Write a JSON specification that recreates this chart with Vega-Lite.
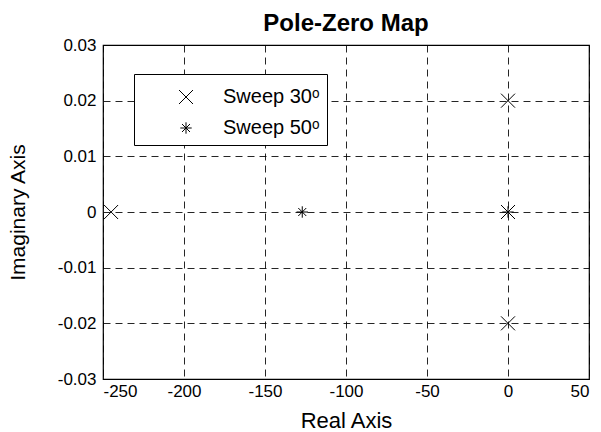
{
  "$schema": "https://vega.github.io/schema/vega-lite/v6.json",
  "width": 486,
  "height": 334,
  "autosize": "none",
  "padding": {"left": 103, "top": 45, "right": 12, "bottom": 53},
  "background": "white",
  "config": {
    "font": "Liberation Sans",
    "view": {"stroke": "black", "strokeWidth": 1.2}
  },
  "title": {
    "text": "Pole-Zero Map",
    "fontSize": 24,
    "fontWeight": "bold",
    "font": "Liberation Sans",
    "color": "black",
    "offset": 0
  },
  "data": {
    "values": [
      {"re": -245, "im": 0, "sys": "Sweep 30ᵒ"},
      {"re": 0, "im": 0.02, "sys": "Sweep 30ᵒ"},
      {"re": 0, "im": -0.02, "sys": "Sweep 30ᵒ"},
      {"re": 0, "im": 0, "sys": "Sweep 30ᵒ"},
      {"re": -127, "im": 0, "sys": "Sweep 50ᵒ"},
      {"re": 0, "im": 0, "sys": "Sweep 50ᵒ"}
    ]
  },
  "mark": {"type": "point", "filled": false, "stroke": "black", "strokeWidth": 1, "opacity": 1},
  "encoding": {
    "x": {
      "field": "re",
      "type": "quantitative",
      "scale": {"domain": [-250, 50], "nice": false, "zero": false},
      "axis": {
        "title": "Real Axis",
        "values": [-250, -200, -150, -100, -50, 0, 50],
        "labelExpr": "toString(datum.value)",
        "grid": true,
        "gridDash": [7, 5],
        "gridColor": "black",
        "gridOpacity": 0.85,
        "domain": false,
        "ticks": false,
        "labelPadding": 4,
        "labelFontSize": 17,
        "labelColor": "black",
        "labelFont": "Liberation Sans",
        "titleFontSize": 22,
        "titleFontWeight": "normal",
        "titleColor": "black",
        "titleFont": "Liberation Sans",
        "titleBaseline": "alphabetic",
        "titleY": 48
      }
    },
    "y": {
      "field": "im",
      "type": "quantitative",
      "scale": {"domain": [-0.03, 0.03], "nice": false, "zero": false},
      "axis": {
        "title": "Imaginary Axis",
        "values": [-0.03, -0.02, -0.01, 0, 0.01, 0.02, 0.03],
        "labelExpr": "datum.value == 0 ? '0' : (datum.value < 0 ? '-' : '') + format(abs(datum.value), '.2f')",
        "grid": true,
        "gridDash": [7, 5],
        "gridColor": "black",
        "gridOpacity": 0.85,
        "domain": false,
        "ticks": false,
        "labelPadding": 7,
        "labelFontSize": 17,
        "labelColor": "black",
        "labelFont": "Liberation Sans",
        "titleFontSize": 21,
        "titleFontWeight": "normal",
        "titleColor": "black",
        "titleFont": "Liberation Sans",
        "titleX": -79,
        "titleBaseline": "alphabetic"
      }
    },
    "shape": {
      "field": "sys",
      "type": "nominal",
      "scale": {
        "domain": ["Sweep 30ᵒ", "Sweep 50ᵒ"],
        "range": ["M-1,-1L1,1M1,-1L-1,1", "M-1,0L1,0M0,-1L0,1M-0.7,-0.7L0.7,0.7M-0.7,0.7L0.7,-0.7"]
      },
      "legend": {
        "title": " ",
        "titleFontSize": 5,
        "titlePadding": 1,
        "orient": "none",
        "legendX": 31,
        "legendY": 29,
        "padding": 7,
        "strokeColor": "black",
        "fillColor": "white",
        "cornerRadius": 0,
        "rowPadding": 11,
        "symbolOffset": 35,
        "labelOffset": 27,
        "labelFontSize": 20,
        "labelExpr": "datum.label + '\u00a0\u00a0'",
        "labelColor": "black",
        "labelFont": "Liberation Sans",
        "symbolStrokeColor": "black",
        "symbolStrokeWidth": 1,
        "symbolFillColor": "transparent"
      }
    },
    "size": {
      "field": "sys",
      "type": "nominal",
      "scale": {"domain": ["Sweep 30ᵒ", "Sweep 50ᵒ"], "range": [196, 130]}
    }
  }
}
